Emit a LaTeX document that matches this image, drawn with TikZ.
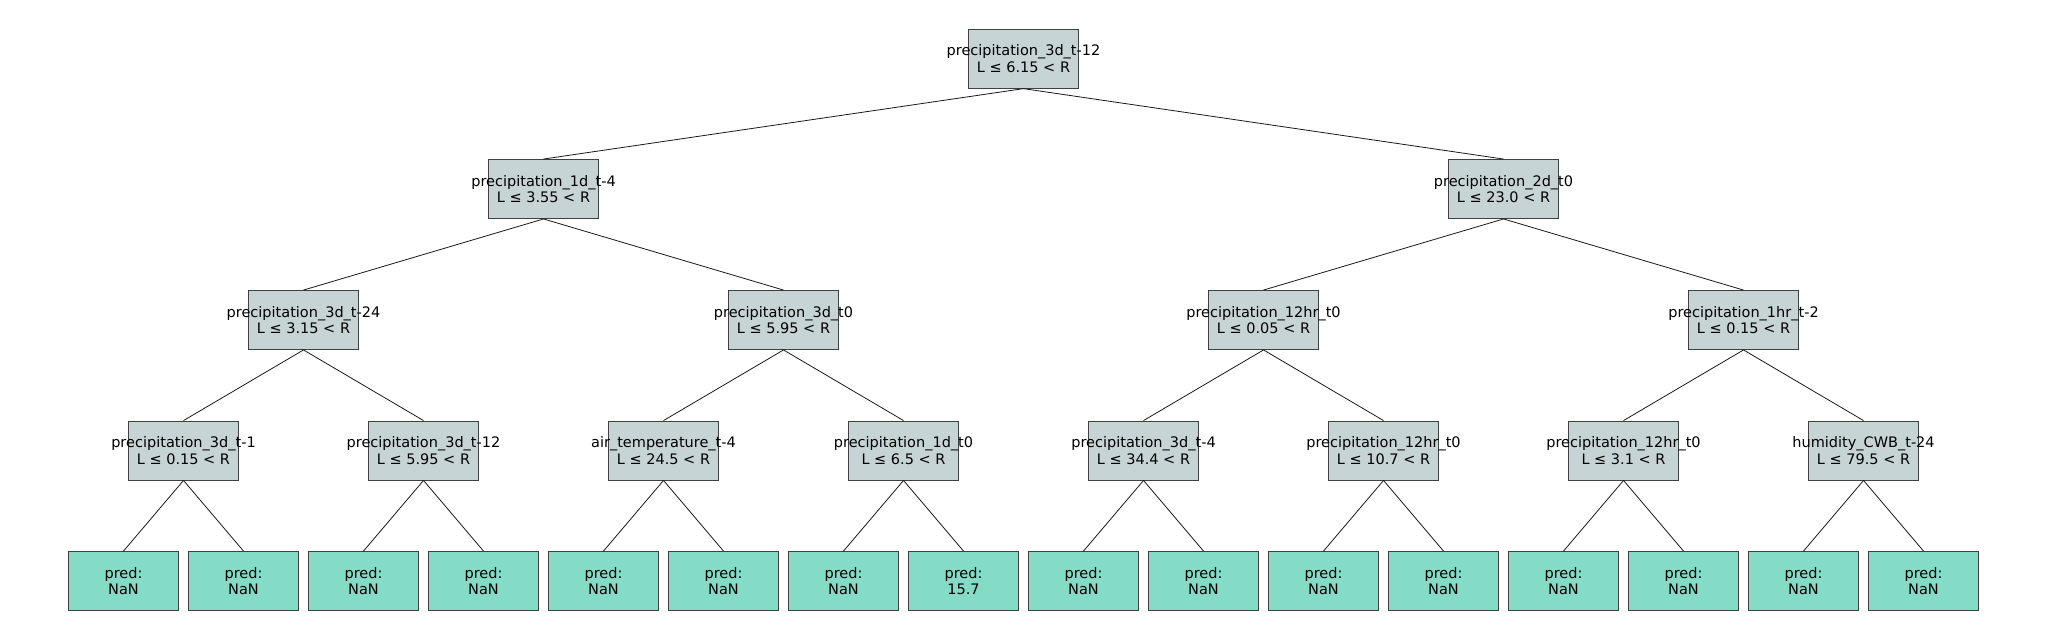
\documentclass[tikz,border=0pt]{standalone}
\usepackage{fontspec}
\setmainfont{DejaVu Sans}
\begin{document}
\begin{tikzpicture}[x=1pt,y=-1pt,
  splitbox/.style={draw=black!75,line width=0.9pt,fill=splitc,minimum width=110pt,minimum height=59pt,inner sep=0pt},
  leafbox/.style={splitbox,fill=leafc},
  txt/.style={inner sep=0pt,align=center,font=\fontsize{14.5}{16.5}\selectfont},
  edge/.style={draw=black!90,line width=0.8pt}]
\definecolor{splitc}{HTML}{C7D4D5}
\definecolor{leafc}{HTML}{84DBC6}
\useasboundingbox (0,0) rectangle (2048,640);
% split boxes
\foreach \n/\x/\y in {r/1023.5/58.7,
  a/543.5/189,b/1503.5/189,
  aa/303.5/320,ab/783.5/320,ba/1263.5/320,bb/1743.5/320,
  c1/183.5/450.5,c2/423.5/450.5,c3/663.5/450.5,c4/903.5/450.5,
  c5/1143.5/450.5,c6/1383.5/450.5,c7/1623.5/450.5,c8/1863.5/450.5}
  \node[splitbox] (\n) at (\x,\y) {};
\node[txt] (r-t) at (r) {precipitation\_3d\_t-12\\L ≤ 6.15 < R};
\node[txt] (a-t) at (a) {precipitation\_1d\_t-4\\L ≤ 3.55 < R};
\node[txt] (b-t) at (b) {precipitation\_2d\_t0\\L ≤ 23.0 < R};
\node[txt] (aa-t) at (aa) {precipitation\_3d\_t-24\\L ≤ 3.15 < R};
\node[txt] (ab-t) at (ab) {precipitation\_3d\_t0\\L ≤ 5.95 < R};
\node[txt] (ba-t) at (ba) {precipitation\_12hr\_t0\\L ≤ 0.05 < R};
\node[txt] (bb-t) at (bb) {precipitation\_1hr\_t-2\\L ≤ 0.15 < R};
\node[txt] (c1-t) at (c1) {precipitation\_3d\_t-1\\L ≤ 0.15 < R};
\node[txt] (c2-t) at (c2) {precipitation\_3d\_t-12\\L ≤ 5.95 < R};
\node[txt] (c3-t) at (c3) {air\_temperature\_t-4\\L ≤ 24.5 < R};
\node[txt] (c4-t) at (c4) {precipitation\_1d\_t0\\L ≤ 6.5 < R};
\node[txt] (c5-t) at (c5) {precipitation\_3d\_t-4\\L ≤ 34.4 < R};
\node[txt] (c6-t) at (c6) {precipitation\_12hr\_t0\\L ≤ 10.7 < R};
\node[txt] (c7-t) at (c7) {precipitation\_12hr\_t0\\L ≤ 3.1 < R};
\node[txt] (c8-t) at (c8) {humidity\_CWB\_t-24\\L ≤ 79.5 < R};
% leaves
\foreach \i/\v in {1/NaN,2/NaN,3/NaN,4/NaN,5/NaN,6/NaN,7/NaN,8/15.7,9/NaN,10/NaN,11/NaN,12/NaN,13/NaN,14/NaN,15/NaN,16/NaN}
  \node[leafbox,txt,minimum width=110pt,minimum height=59pt,draw=black!75,line width=0.9pt] (l\i) at ({123.5+120*(\i-1)},581) {pred:\\\v};
% edges
\draw[edge] (r.south) -- (a.north);
\draw[edge] (r.south) -- (b.north);
\draw[edge] (a.south) -- (aa.north);
\draw[edge] (a.south) -- (ab.north);
\draw[edge] (b.south) -- (ba.north);
\draw[edge] (b.south) -- (bb.north);
\draw[edge] (aa.south) -- (c1.north);
\draw[edge] (aa.south) -- (c2.north);
\draw[edge] (ab.south) -- (c3.north);
\draw[edge] (ab.south) -- (c4.north);
\draw[edge] (ba.south) -- (c5.north);
\draw[edge] (ba.south) -- (c6.north);
\draw[edge] (bb.south) -- (c7.north);
\draw[edge] (bb.south) -- (c8.north);
\foreach \c/\x/\y in {c1/l1/l2,c2/l3/l4,c3/l5/l6,c4/l7/l8,c5/l9/l10,c6/l11/l12,c7/l13/l14,c8/l15/l16} {
  \draw[edge] (\c.south) -- (\x.north);
  \draw[edge] (\c.south) -- (\y.north);
}
\end{tikzpicture}
\end{document}
